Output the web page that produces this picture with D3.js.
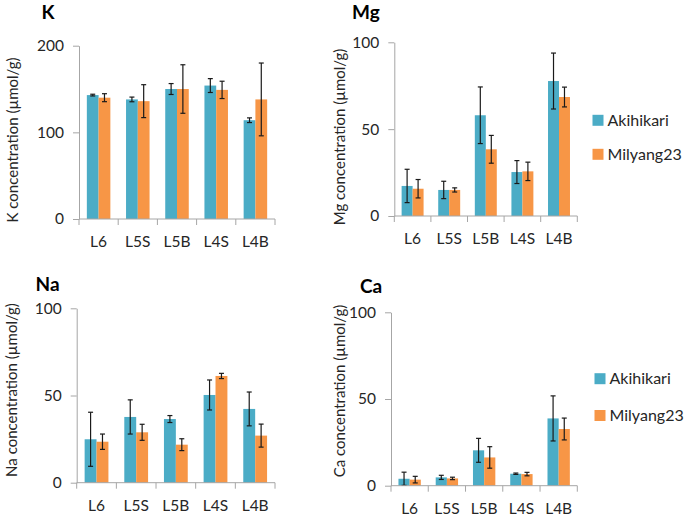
<!DOCTYPE html>
<html><head><meta charset="utf-8">
<script src="https://cdn.jsdelivr.net/npm/d3@7"></script>
<style>
body{margin:0;background:#fff;}
svg{display:block;font-family:Lato,"Open Sans",sans-serif;}
</style></head>
<body>
<svg id="c" width="685" height="519"></svg>
<script>
const categories = ["L6","L5S","L5B","L4S","L4B"];
const seriesNames = ["Akihikari","Milyang23"];
const colors = ["#4BACC6","#F79646"];

const kAki = [143,138,150,154,114];
const kAkiErr = [1,2.7,6.3,8,2.7];
const kMil = [140,136,150,149,138];
const kMilErr = [4.6,19,28,10,42];

const mgAki = [17.3,15,58,25.3,77.7];
const mgAkiErr = [9.6,5,16.3,6.6,16.1];
const mgMil = [15.7,15,38.4,25.7,68.5];
const mgMilErr = [5.3,1.2,8,5.3,5.7];

const naAki = [24.9,37.7,36.5,50.3,42.3];
const naAkiErr = [15.5,9.8,2,8.6,9.7];
const naMil = [23.5,28.9,21.8,61.2,27];
const naMilErr = [4.4,4.6,3.4,1.5,6.6];

const caAki = [4,4.8,20.4,6.9,38.8];
const caAkiErr = [3.8,1.2,6.9,0.4,13];
const caMil = [3.5,4.2,16.3,6.7,32.7];
const caMilErr = [1.9,0.7,6.2,1,6.3];

const kTicks = [0,100,200];
const otherTicks = [0,50,100];

const panels = [
  {title:"K", ylabel:"K concentration (µmol/g)", vals:[kAki,kMil], errs:[kAkiErr,kMilErr], max:200, ticks:kTicks,
   x0:79, x1:275, yTop:45.7, yBot:219, tx:41.5, ty:18.5, lx:18, ly:140, legend:null},
  {title:"Mg", ylabel:"Mg concentration (µmol/g)", vals:[mgAki,mgMil], errs:[mgAkiErr,mgMilErr], max:100, ticks:otherTicks,
   x0:394.3, x1:577.3, yTop:42.3, yBot:216, tx:352, ty:18.5, lx:345, ly:137, legend:{x:592.5, y:[120.3,154.3]}},
  {title:"Na", ylabel:"Na concentration (µmol/g)", vals:[naAki,naMil], errs:[naAkiErr,naMilErr], max:100, ticks:otherTicks,
   x0:76.7, x1:275, yTop:308.3, yBot:482.7, tx:35.5, ty:290.5, lx:17, ly:390, legend:null},
  {title:"Ca", ylabel:"Ca concentration (µmol/g)", vals:[caAki,caMil], errs:[caAkiErr,caMilErr], max:100, ticks:otherTicks,
   x0:391, x1:577.3, yTop:312.3, yBot:485.7, tx:360, ty:292.5, lx:345, ly:391, legend:{x:594.5, y:[378.7,415.5]}}
];

const svg = d3.select("#c");
const axisColor = "#A6A6A6";
const textColor = "#262626";

panels.forEach(p => {
  const g = svg.append("g");
  const x = d3.scaleBand().domain(categories).range([p.x0, p.x1]).padding(0);
  const bw = x.bandwidth();
  const xs = d3.scaleBand().domain(seriesNames).range([bw*0.2, bw*0.8]).padding(0);
  const y = d3.scaleLinear().domain([0, p.max]).range([p.yBot, p.yTop]);

  const ya = g.append("g").attr("transform", `translate(${p.x0},0)`)
    .call(d3.axisLeft(y).tickValues(p.ticks).tickSize(6).tickSizeOuter(0).tickPadding(9));
  ya.select(".domain").attr("stroke", axisColor);
  ya.selectAll(".tick line").attr("stroke", axisColor);
  ya.selectAll(".tick text").attr("fill", textColor).style("font-size","15.5px").style("font-family","Lato");

  seriesNames.forEach((s, si) => {
    g.append("g").selectAll("rect").data(categories).join("rect")
      .attr("x", c => x(c) + xs(s))
      .attr("width", xs.bandwidth())
      .attr("y", (c,i) => y(p.vals[si][i]))
      .attr("height", (c,i) => y(0) - y(p.vals[si][i]))
      .attr("fill", colors[si]);
  });

  seriesNames.forEach((s, si) => {
    const eg = g.append("g").attr("stroke", "#1a1a1a").attr("stroke-width", 1.2);
    categories.forEach((c, i) => {
      const cx = x(c) + xs(s) + xs.bandwidth()/2;
      const v = p.vals[si][i], e = p.errs[si][i];
      const yt = y(v + e), yb = y(Math.max(0, v - e));
      eg.append("line").attr("x1", cx).attr("x2", cx).attr("y1", yt).attr("y2", yb);
      eg.append("line").attr("x1", cx-2.5).attr("x2", cx+2.5).attr("y1", yt).attr("y2", yt);
      eg.append("line").attr("x1", cx-2.5).attr("x2", cx+2.5).attr("y1", yb).attr("y2", yb);
    });
  });

  const xa = g.append("g");
  xa.append("line").attr("x1", p.x0).attr("x2", p.x1).attr("y1", p.yBot).attr("y2", p.yBot).attr("stroke", axisColor);
  const bounds = categories.map(c => x(c)).concat([p.x1]);
  xa.selectAll("line.t").data(bounds).join("line").attr("class","t")
    .attr("x1", d => d).attr("x2", d => d).attr("y1", p.yBot).attr("y2", p.yBot + 6).attr("stroke", axisColor);
  xa.selectAll("text").data(categories).join("text")
    .attr("x", c => x(c) + bw/2).attr("y", p.yBot + 28)
    .attr("text-anchor","middle").attr("fill", textColor)
    .style("font-size","15.5px").text(c => c);

  g.append("text").attr("x", p.tx).attr("y", p.ty).attr("font-weight","bold")
    .style("font-size","19px").attr("fill","#000").text(p.title);

  g.append("text").attr("transform", `translate(${p.lx},${p.ly}) rotate(-90)`)
    .attr("text-anchor","middle").attr("fill", textColor)
    .style("font-size","15px").text(p.ylabel);

  if (p.legend) {
    seriesNames.forEach((s, si) => {
      g.append("rect").attr("x", p.legend.x).attr("y", p.legend.y[si] - 5.5)
        .attr("width", 11).attr("height", 11).attr("fill", colors[si]);
      g.append("text").attr("x", p.legend.x + 15).attr("y", p.legend.y[si])
        .attr("dy","0.35em").attr("fill", textColor)
        .style("font-size","16px").text(s);
    });
  }
});
</script>
</body></html>
